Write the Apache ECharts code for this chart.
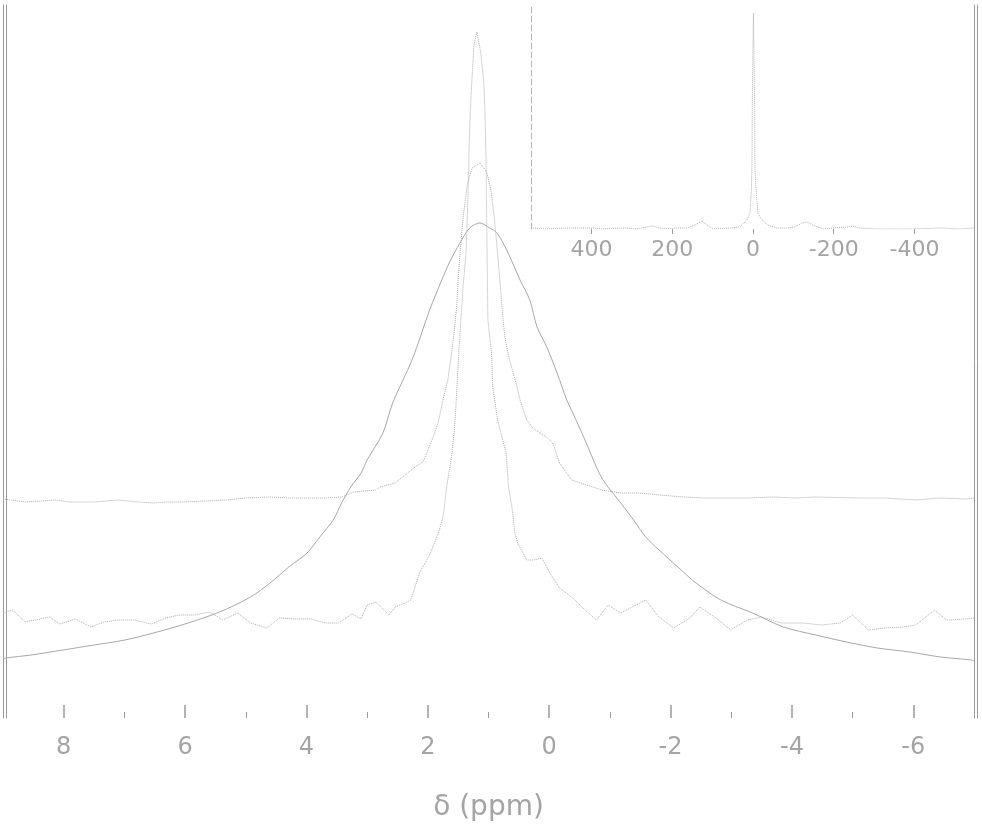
<!DOCTYPE html>
<html>
<head>
<meta charset="utf-8">
<script src="https://cdn.jsdelivr.net/npm/echarts@6/dist/echarts.min.js"></script>
<style>
html,body{margin:0;padding:0;background:#fff;}
#chart{width:982px;height:827px;}
</style>
</head>
<body>
<div id="chart"></div>
<script>
// main x axis (ppm, reversed)
const xMajorTicks = [8, 6, 4, 2, 0, -2, -4, -6];
const xMinorTicks = [7, 5, 3, 1, -1, -3, -5];
// inset x axis (ppm, reversed)
const insetTicks = [400, 200, 0, -200, -400];

// broad peak, lowest trace [ppm, intensity]
const broadTrace = [
[9.0,59],[8.95,60],[8.54,63],[8.01,68],[7.50,73],[6.99,78],[6.46,86],[5.95,95],[5.43,106],[4.92,121],
[4.60,135],[4.29,151],[3.99,165],[3.78,181],[3.56,198],[3.42,215],[3.27,231],[3.10,245],[3.00,258],
[2.74,285],[2.58,315],[2.26,358],[1.97,408],[1.77,438],[1.64,456],[1.47,475],[1.31,490],[1.14,495],
[0.98,490],[0.86,485],[0.70,468],[0.48,438],[0.32,418],[0.20,391],[0.04,371],[-0.13,345],[-0.29,318],
[-0.39,305],[-0.59,278],[-0.80,248],[-0.92,235],[-1.18,215],[-1.39,198],[-1.59,181],[-1.81,168],
[-2.12,151],[-2.42,135],[-2.83,118],[-3.35,105],[-3.86,91],[-4.39,83],[-4.90,76],[-5.41,70],
[-5.94,66],[-6.45,61],[-6.96,58],[-7.0,57]
];

// narrow tall peak, middle trace [ppm, intensity]
const narrowTrace = [
[9.0,104],[8.95,106],[8.84,108],[8.64,96],[8.23,101],[8.06,94],[7.81,99],[7.55,91],[7.34,96],[7.09,98],
[6.83,98],[6.56,94],[6.32,100],[6.10,103],[5.85,103],[5.59,106],[5.38,98],[5.13,105],[4.92,95],[4.65,90],
[4.45,100],[4.19,99],[3.93,99],[3.68,95],[3.47,95],[3.25,104],[3.10,99],[3.00,113],[2.86,116],[2.64,103],
[2.54,111],[2.38,115],[2.28,118],[2.21,131],[2.13,146],[1.97,163],[1.82,186],[1.75,201],[1.72,215],
[1.69,231],[1.60,265],[1.55,298],[1.52,331],[1.49,365],[1.42,431],[1.37,465],[1.34,518],[1.32,568],
[1.30,608],[1.27,641],[1.24,673],[1.19,686],[1.13,666],[1.08,638],[1.06,608],[1.04,558],[1.03,498],
[1.02,448],[1.01,398],[0.95,365],[0.93,331],[0.85,298],[0.71,265],[0.67,231],[0.60,205],[0.57,186],
[0.52,175],[0.37,158],[0.26,158],[0.12,160],[-0.01,145],[-0.17,130],[-0.39,120],[-0.59,108],[-0.78,98],
[-0.97,113],[-1.18,105],[-1.59,118],[-1.81,101],[-2.05,90],[-2.32,100],[-2.48,111],[-2.73,101],
[-2.99,88],[-3.26,98],[-3.50,101],[-3.82,95],[-4.18,95],[-4.49,93],[-4.80,95],[-5.00,103],[-5.26,88],
[-5.53,90],[-5.82,91],[-6.04,93],[-6.35,108],[-6.55,98],[-6.86,99],[-7.0,100]
];

// medium peak with shoulder, top trace [ppm, intensity]
const shoulderTrace = [
[9.0,219],[8.98,218],[8.64,216],[8.13,218],[7.91,216],[7.50,216],[7.09,218],[6.78,216],[6.51,215],
[6.32,216],[6.05,216],[5.64,217],[5.33,218],[5.01,220],[4.60,221],[4.29,220],[3.99,220],[3.68,220],
[3.42,221],[3.22,226],[2.86,228],[2.79,231],[2.54,235],[2.21,251],[2.08,256],[1.93,278],[1.83,295],
[1.74,321],[1.67,338],[1.62,360],[1.57,383],[1.52,415],[1.49,448],[1.42,500],[1.35,533],[1.27,550],
[1.14,555],[1.03,546],[0.96,528],[0.91,503],[0.85,465],[0.76,398],[0.73,381],[0.68,365],[0.65,358],
[0.53,331],[0.48,318],[0.37,298],[0.27,290],[0.15,285],[0.04,281],[-0.06,275],[-0.17,255],[-0.37,238],
[-0.72,231],[-0.87,228],[-1.18,225],[-1.49,225],[-1.81,223],[-2.22,221],[-2.53,220],[-2.94,220],
[-3.26,220],[-3.67,221],[-4.08,220],[-4.39,221],[-5.10,220],[-5.53,220],[-6.04,218],[-6.45,220],
[-6.86,219],[-7.0,220]
];

// inset: full spectral width [ppm, intensity]
const insetTrace = [
[550,1],[547.5,1],[510.4,0],[460.8,1],[441.0,1],[394.0,1],[374.1,0],[317.2,1],[292.4,0],[262.7,2],
[247.8,3],[230.5,1],[198.3,0],[188.4,1],[163.6,1],[143.8,4],[126.6,8],[114.0,4],[99.2,0],[57.1,1],
[32.3,2],[15.0,9],[7.6,16],[3.8,40],[2.6,62],[1.4,140],[-1.1,216],[-3.6,140],[-4.8,62],[-7.3,40],
[-9.8,29],[-12.3,16],[-22.2,9],[-37.0,4],[-59.3,1],[-84.1,1],[-103.9,2],[-121.3,6],[-133.6,7],
[-148.5,4],[-173.3,0],[-198.1,1],[-232.7,2],[-247.6,3],[-264.9,1],[-307.0,0],[-331.8,0],[-371.4,0],
[-396.2,0],[-455.7,1],[-470.5,1],[-512.6,0],[-544.8,1],[-550,1]
];

const axisColor = '#9a9a9a';
const textColor = '#a4a4a4';
const font = 'DejaVu Sans';

const hiddenY = (extra) => Object.assign({
  type: 'value', gridIndex: 0, min: 0, max: 713,
  axisLine: { show: true, onZero: false, lineStyle: { color: axisColor, width: 1 } },
  axisTick: { show: false }, axisLabel: { show: false }, splitLine: { show: false }
}, extra);

const option = {
  animation: false,
  backgroundColor: '#ffffff',
  grid: [
    { left: 3, right: 8, top: 5, bottom: 109 },
    { left: 531, right: 7, top: 6, bottom: 598 }
  ],
  xAxis: [
    {
      type: 'value', gridIndex: 0, min: -7, max: 9, inverse: true, position: 'bottom',
      axisLine: { show: false },
      axisTick: { show: true, inside: true, length: 13, customValues: xMajorTicks,
        lineStyle: { color: axisColor, width: 1.5 } },
      axisLabel: { customValues: xMajorTicks, margin: 18, fontSize: 24, color: textColor, fontFamily: font },
      splitLine: { show: false },
      name: 'δ (ppm)', nameLocation: 'middle', nameGap: 76,
      nameTextStyle: { fontSize: 28, color: textColor, fontFamily: font }
    },
    {
      type: 'value', gridIndex: 0, min: -7, max: 9, inverse: true, position: 'bottom',
      axisLine: { show: false },
      axisTick: { show: true, inside: true, length: 6, customValues: xMinorTicks,
        lineStyle: { color: axisColor, width: 1 } },
      axisLabel: { show: false },
      splitLine: { show: false }
    },
    {
      type: 'value', gridIndex: 1, min: -550, max: 550, inverse: true, position: 'bottom',
      axisLine: { show: false },
      axisTick: { show: true, inside: false, length: 5, customValues: insetTicks,
        lineStyle: { color: axisColor, width: 1 } },
      axisLabel: { customValues: insetTicks, margin: 10, fontSize: 22, color: textColor, fontFamily: font },
      splitLine: { show: false }
    }
  ],
  yAxis: [
    hiddenY({ position: 'left' }),
    hiddenY({ position: 'left', offset: -3 }),
    hiddenY({ position: 'right' }),
    hiddenY({ position: 'right', offset: 3 }),
    {
      type: 'value', gridIndex: 1, min: 0, max: 223, position: 'left',
      axisLine: { show: true, onZero: false, lineStyle: { color: '#b4b4b4', width: 1, type: [6, 3] } },
      axisTick: { show: false }, axisLabel: { show: false }, splitLine: { show: false }
    }
  ],
  series: [
    {
      type: 'line', xAxisIndex: 0, yAxisIndex: 0, data: broadTrace, showSymbol: false,
      smooth: 0.3, lineStyle: { color: '#a8a8a8', width: 1 }
    },
    {
      type: 'line', xAxisIndex: 0, yAxisIndex: 0, data: narrowTrace, showSymbol: false,
      lineStyle: { color: '#adadad', width: 1, type: 'dotted' }
    },
    {
      type: 'line', xAxisIndex: 0, yAxisIndex: 0, data: shoulderTrace, showSymbol: false,
      lineStyle: { color: '#adadad', width: 1, type: 'dotted' }
    },
    {
      type: 'line', xAxisIndex: 2, yAxisIndex: 4, data: insetTrace, showSymbol: false,
      lineStyle: { color: '#b0b0b0', width: 1, type: 'dotted' }
    }
  ]
};

const chart = echarts.init(document.getElementById('chart'), null, { renderer: 'canvas' });
chart.setOption(option);
</script>
</body>
</html>
